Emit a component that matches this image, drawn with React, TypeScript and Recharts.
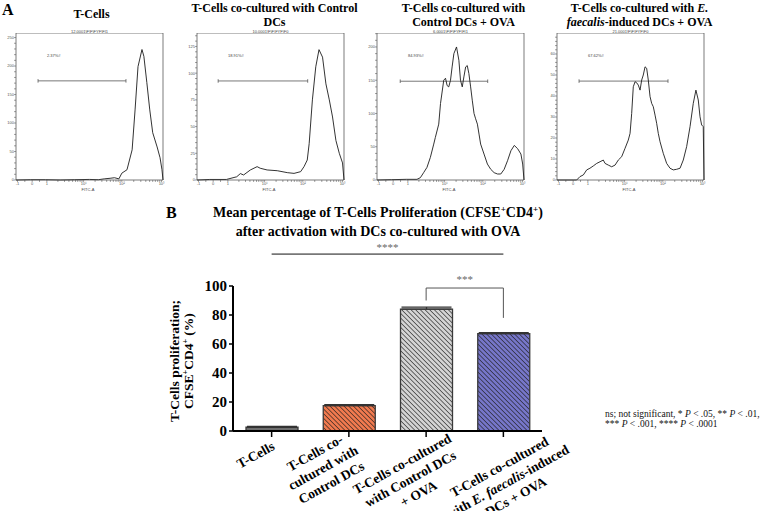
import React from 'react';
import { LineChart, Line, XAxis, YAxis, ReferenceLine, BarChart, Bar, ErrorBar, Cell } from 'recharts';

const SERIF = '"Liberation Serif", "Times New Roman", Tinos, serif';
const SANS = '"Liberation Sans", Arial, sans-serif';

// ---------- Panel A : FITC-A histograms (x = position on biexponential FITC-A axis, 0-100) ----------
const fitcMajorPos = [1, 11, 21, 46, 72, 99];
const fitcMajorLabels = ['-1', '0', '1', '10¹', '10²', '10³'];
const fitcMinorPos = [6, 16, 28.5, 33, 36, 38.5, 40.5, 42, 43.6, 44.9, 53.8, 58.4, 61.7, 64.2, 66.2, 68, 69.5, 70.8, 80.1, 84.9, 88.3, 90.9, 93, 94.8, 96.4, 97.8];

const tcellsFitc = [0, 10, 20, 30, 40, 50, 56, 60, 64, 67, 70, 72, 75.5, 79, 81, 83, 85.7, 87, 89, 91, 93, 96, 98, 99.3, 100];
const tcellsCount = [0, 0.5, 0.5, 0, 0.5, 1, 0.5, 2, 3, 4, 2, 12, 18, 53, 123, 199, 229, 217, 171, 123, 83, 58, 39, 18, 0];

const ctrlFitc = [0, 8.7, 20, 27, 29.5, 31.7, 36.3, 40.9, 43, 47.7, 54.6, 61.4, 66, 70.5, 72.8, 75, 76.3, 78.5, 80.8, 83, 85.4, 87.7, 90, 92.2, 94.5, 96.8, 99, 100];
const ctrlCount = [0, 0.5, 0.5, 3, 6, 4.7, 9.4, 12.5, 11, 9.4, 8.7, 6.9, 6.2, 7.8, 12.5, 18.7, 34, 75, 106, 122, 115, 90, 75, 59, 37, 25, 16, 0];

const ovaFitc = [0, 10, 20, 27.2, 29.5, 31.7, 34, 36.3, 38.6, 39.7, 42, 43.2, 45.4, 46.6, 47.7, 48.8, 50, 51.1, 52.3, 54.1, 55.7, 56.8, 58, 59.1, 60.3, 61.4, 62.5, 63.7, 64.8, 66, 67.1, 68.3, 69.4, 70.5, 72.8, 75.1, 77.4, 79.7, 82, 84.2, 86.5, 88.8, 91.1, 93.4, 95.7, 97.9, 99.1, 100];
const ovaCount = [0, 0.5, 1, 1, 3.5, 11, 19, 34, 54, 64, 84, 115, 150, 153, 142, 140, 150, 170, 190, 200, 180, 150, 140, 155, 170, 172, 160, 140, 120, 100, 92, 84, 69, 54, 39, 24, 16, 11, 9, 9, 16, 29, 44, 52, 47, 39, 24, 0];

const efFitc = [0, 11, 13.4, 15.6, 17.9, 20.2, 22.4, 24.7, 27, 29.3, 31.5, 32.7, 34.9, 37.2, 39.5, 41.7, 44, 46.3, 48.5, 49.7, 50.8, 51.9, 53.1, 54.2, 55.3, 56.5, 57.6, 58.7, 59.9, 61, 62.1, 63.3, 64.4, 65.5, 66.7, 67.8, 68.9, 70.1, 72.3, 74.6, 76.9, 79.1, 81.4, 83.7, 85.9, 88.2, 90.5, 92.7, 94.5, 96.1, 97.3, 98.4, 99.5, 100];
const efCount = [0, 0, 0, 1.6, 2.4, 4.8, 5.6, 6.7, 7.9, 8.7, 9.5, 7.9, 7.1, 6.3, 7.1, 9.5, 11.1, 15.1, 19, 22.2, 31.7, 44.4, 46.8, 46.3, 45.2, 42.8, 47.6, 50, 53.9, 53.2, 47.6, 39.7, 36.5, 34.9, 30.9, 27, 22.2, 18.2, 12.7, 7.9, 5.6, 4.8, 5.1, 5.6, 9.5, 15.9, 25.4, 36.5, 42.8, 38.1, 30.1, 26.2, 25.4, 0];

const histTitles = [
  ['T-Cells'],
  ['T-Cells co-cultured with Control', 'DCs'],
  ['T-Cells co-cultured with', 'Control DCs + OVA'],
  ['T-Cells  co-cultured with E.', 'faecalis-induced DCs + OVA'],
];
const histHeaders = ['12.0001\\F\\F\\FYF\\FI1', '10.0001\\F\\F\\FYF\\F0', '6.0001\\F\\F\\FYF\\FI1', '21.0001\\F\\F\\FYF\\F0'];
const gateLabels = ['2.37%#', '18.91%#', '84.93%#', '67.62%#'];
const gateLevels = [174, 92.7, 148.5, 47.1];
const gateFrom = [15, 14.4, 15.8, 15];
const gateTo = [74.8, 75.3, 75.3, 75.5];

// y-axis scales of the four histograms
const h1Major = [0, 50, 100, 150, 200, 250];
const h1Minor = [10, 20, 30, 40, 60, 70, 80, 90, 110, 120, 130, 140, 160, 170, 180, 190, 210, 220, 230, 240];
const h2Major = [0, 25, 50, 75, 100, 125];
const h2Minor = [5, 10, 15, 20, 30, 35, 40, 45, 55, 60, 65, 70, 80, 85, 90, 95, 105, 110, 115, 120, 130, 135];
const h3Major = [0, 50, 100, 150, 200];
const h3Minor = [10, 20, 30, 40, 60, 70, 80, 90, 110, 120, 130, 140, 160, 170, 180, 190, 210, 220];
const h4Major = [0, 10, 20, 30, 40, 50, 60];
const h4Minor = [2, 4, 6, 8, 12, 14, 16, 18, 22, 24, 26, 28, 32, 34, 36, 38, 42, 44, 46, 48, 52, 54, 56, 58, 62, 64, 66, 68];
const histYMax = [258, 137.6, 221, 70];

// ---------- Panel B : bar chart ----------
const categories = [
  'T-Cells',
  'T-Cells co-cultured with Control DCs',
  'T-Cells co-cultured with Control DCs + OVA',
  'T-Cells  co-cultured with E. faecalis-induced DCs + OVA',
];
const categoryLines = [
  ['T-Cells'],
  ['T-Cells co-', 'cultured with', 'Control DCs'],
  ['T-Cells co-cultured', 'with Control DCs', '+ OVA'],
  ['T-Cells  co-cultured', 'with E. faecalis-induced', 'DCs + OVA'],
];
const proliferationMean = [2.6, 17.5, 84, 67.2];
const proliferationSem = [0.5, 0.7, 1.5, 0.6];
const yTicksB = [0, 20, 40, 60, 80, 100];
const barColors = ['#6e6e6e', '#f17a4f', '#d4d4d4', '#7676c9'];

const barData = categories.map((name, i) => ({
  name,
  value: proliferationMean[i],
  err: [0, proliferationSem[i]],
}));

// label placement (style): centre of the first label line relative to tick
const labelOffsets = [
  [-16, 16],
  [-34, 14],
  [-24, 25],
  [-4, 28],
];

const ITALIC = ['E. faecalis', 'E.', 'faecalis'];

function renderItalic(s: string, key: string | number) {
  for (const it of ITALIC) {
    const idx = s.indexOf(it);
    if (idx >= 0) {
      return [
        s.slice(0, idx),
        <tspan key={`${key}-i`} fontStyle="italic">{it}</tspan>,
        s.slice(idx + it.length),
      ];
    }
  }
  return s;
}

function renderItalicHtml(s: string) {
  for (const it of ITALIC) {
    const idx = s.indexOf(it);
    if (idx >= 0) {
      return (
        <>
          {s.slice(0, idx)}
          <i>{it}</i>
          {s.slice(idx + it.length)}
        </>
      );
    }
  }
  return s;
}

const TICK_FS = 13.5;
const TICK_LH = 17;
const TICK_ANGLE = -29;

function CategoryTick(props: any) {
  const { x, y, payload } = props;
  const idx = Math.max(0, categories.indexOf(payload.value));
  const lines = categoryLines[idx] || [String(payload.value)];
  const [dx, dy] = labelOffsets[idx];
  return (
    <g transform={`translate(${x + dx},${y + dy}) rotate(${TICK_ANGLE})`}>
      <text
        textAnchor="middle"
        fontFamily={SERIF}
        fontWeight="bold"
        fontSize={TICK_FS}
        fill="#000"
      >
        {lines.map((l, i) => (
          <tspan key={i} x={0} y={4.5 + i * TICK_LH}>
            {renderItalic(l, i)}
          </tspan>
        ))}
      </text>
    </g>
  );
}

type HistProps = {
  idx: number;
  frameLeft: number;
  xs: number[];
  ys: number[];
  major: number[];
  minor: number[];
  titleShift: number;
};

const FRAME_TOP = 33;
const FRAME_H = 147;
const FRAME_W = 147;
const YAX_W = 16;

function Histogram({ idx, frameLeft, xs, ys, major, minor, titleShift }: HistProps) {
  const data = xs.map((u, i) => ({ u, count: ys[i] }));
  const yMax = histYMax[idx];
  const gy = gateLevels[idx];
  const cap = yMax * 0.012;
  const frameStroke = '#444';
  return (
    <>
      <div
        style={{
          position: 'absolute',
          left: frameLeft - 30 + titleShift,
          width: FRAME_W + 60,
          top: idx === 0 ? 7 : 1,
          textAlign: 'center',
          fontFamily: SERIF,
          fontWeight: 'bold',
          fontSize: 12,
          lineHeight: '14px',
          whiteSpace: 'nowrap',
        }}
      >
        {histTitles[idx].map((t, i) => (
          <div key={i}>{renderItalicHtml(t)}</div>
        ))}
      </div>
      <div
        style={{
          position: 'absolute',
          left: frameLeft,
          width: FRAME_W,
          top: 29.5,
          textAlign: 'center',
          fontFamily: SANS,
          fontSize: 4,
          lineHeight: '3.5px',
          color: '#444',
          whiteSpace: 'nowrap',
        }}
      >
        {histHeaders[idx]}
      </div>
      <div
        style={{
          position: 'absolute',
          left: frameLeft + 31,
          top: 53,
          fontFamily: SANS,
          fontSize: 4,
          lineHeight: '5px',
          color: '#444',
          whiteSpace: 'nowrap',
        }}
      >
        {gateLabels[idx]}
      </div>
      <div
        style={{
          position: 'absolute',
          left: frameLeft + 62,
          width: 20,
          top: 187,
          textAlign: 'center',
          fontFamily: SANS,
          fontSize: 4,
          lineHeight: '5px',
          color: '#444',
        }}
      >
        FITC-A
      </div>
      <div style={{ position: 'absolute', left: frameLeft - YAX_W, top: FRAME_TOP }}>
        <LineChart
          width={YAX_W + FRAME_W + 2}
          height={FRAME_H + 12}
          data={data}
          margin={{ top: 0, right: 2, bottom: 0, left: 0 }}
        >
          <XAxis
            type="number"
            dataKey="u"
            domain={[0, 100]}
            ticks={[...fitcMajorPos, ...fitcMinorPos]}
            tickFormatter={(v: number) => {
              const k = fitcMajorPos.indexOf(v);
              return k >= 0 ? fitcMajorLabels[k] : '';
            }}
            interval={0}
            height={12}
            tickSize={2}
            tickMargin={0}
            tick={{ fontSize: 4, fill: '#555', fontFamily: SANS }}
            axisLine={{ stroke: frameStroke, strokeWidth: 0.7 }}
            tickLine={{ stroke: frameStroke, strokeWidth: 0.5 }}
          />
          <YAxis
            type="number"
            domain={[0, yMax]}
            ticks={[...major, ...minor]}
            tickFormatter={(v: number) => (major.includes(v) ? String(v) : '')}
            interval={0}
            width={YAX_W}
            tickSize={2}
            tickMargin={0}
            tick={{ fontSize: 4, fill: '#555', fontFamily: SANS }}
            axisLine={{ stroke: frameStroke, strokeWidth: 0.7 }}
            tickLine={{ stroke: frameStroke, strokeWidth: 0.5 }}
          />
          <ReferenceLine y={yMax} stroke={frameStroke} strokeWidth={0.7} />
          <ReferenceLine x={100} stroke={frameStroke} strokeWidth={0.7} />
          <ReferenceLine
            segment={[{ x: gateFrom[idx], y: gy }, { x: gateTo[idx], y: gy }]}
            stroke="#555"
            strokeWidth={0.8}
          />
          <ReferenceLine
            segment={[{ x: gateFrom[idx], y: gy - cap }, { x: gateFrom[idx], y: gy + cap }]}
            stroke="#555"
            strokeWidth={0.8}
          />
          <ReferenceLine
            segment={[{ x: gateTo[idx], y: gy - cap }, { x: gateTo[idx], y: gy + cap }]}
            stroke="#555"
            strokeWidth={0.8}
          />
          <Line
            type="linear"
            dataKey="count"
            stroke="#1c1c1c"
            strokeWidth={0.9}
            dot={false}
            isAnimationActive={false}
          />
        </LineChart>
      </div>
    </>
  );
}

const supStyle: React.CSSProperties = { fontSize: 9, position: 'relative', top: -5 };

export default function App() {
  const hatchIds = barColors.map((_, i) => `hatch-${i}`);
  return (
    <div
      style={{
        position: 'absolute',
        left: 0,
        top: 0,
        width: 760,
        height: 511,
        background: '#fff',
        overflow: 'hidden',
      }}
    >
      <div style={{ position: 'absolute', left: 2, top: 1, fontFamily: SERIF, fontWeight: 'bold', fontSize: 16 }}>A</div>

      <Histogram idx={0} frameLeft={16} xs={tcellsFitc} ys={tcellsCount} major={h1Major} minor={h1Minor} titleShift={2} />
      <Histogram idx={1} frameLeft={197} xs={ctrlFitc} ys={ctrlCount} major={h2Major} minor={h2Minor} titleShift={4} />
      <Histogram idx={2} frameLeft={377} xs={ovaFitc} ys={ovaCount} major={h3Major} minor={h3Minor} titleShift={13} />
      <Histogram idx={3} frameLeft={557} xs={efFitc} ys={efCount} major={h4Major} minor={h4Minor} titleShift={9} />

      <div style={{ position: 'absolute', left: 166, top: 204, fontFamily: SERIF, fontWeight: 'bold', fontSize: 16 }}>B</div>
      <div
        style={{
          position: 'absolute',
          left: 178,
          width: 400,
          top: 204,
          textAlign: 'center',
          fontFamily: SERIF,
          fontWeight: 'bold',
          fontSize: 14,
          lineHeight: '17px',
          whiteSpace: 'nowrap',
        }}
      >
        <div>
          Mean percentage of T-Cells Proliferation (CFSE<span style={supStyle}>+</span>CD4<span style={supStyle}>+</span>)
        </div>
        <div>after activation with DCs co-cultured with OVA</div>
      </div>

      <div
        style={{
          position: 'absolute',
          left: 183,
          top: 361,
          width: 0,
          height: 0,
        }}
      >
        <div
          style={{
            position: 'absolute',
            left: -100,
            top: -15,
            width: 200,
            textAlign: 'center',
            transform: 'rotate(-90deg)',
            fontFamily: SERIF,
            fontWeight: 'bold',
            fontSize: 13.5,
            lineHeight: '14px',
            whiteSpace: 'nowrap',
          }}
        >
          <div>T-Cells proliferation;</div>
          <div>
            CFSE<span style={{ fontSize: 8, position: 'relative', top: -5 }}>+</span>CD4
            <span style={{ fontSize: 8, position: 'relative', top: -5 }}>+</span> (%)
          </div>
        </div>
      </div>

      <div style={{ position: 'absolute', left: 140, top: 240 }}>
        <BarChart
          width={440}
          height={271}
          data={barData}
          margin={{ top: 46, right: 38, bottom: 0, left: 0 }}
          barSize={52}
        >
          <defs>
            {barColors.map((c, i) => (
              <pattern
                key={i}
                id={hatchIds[i]}
                patternUnits="userSpaceOnUse"
                width={3.3}
                height={3.3}
                patternTransform="rotate(-45)"
              >
                <rect x={0} y={0} width={3.3} height={3.3} fill={c} />
                {i > 0 && <line x1={0} y1={0} x2={0} y2={3.3} stroke="#1a1a1a" strokeWidth={1.2} />}
              </pattern>
            ))}
          </defs>
          <XAxis
            dataKey="name"
            interval={0}
            height={80}
            tick={<CategoryTick />}
            tickSize={6}
            axisLine={{ stroke: '#000', strokeWidth: 2 }}
            tickLine={{ stroke: '#000', strokeWidth: 1.5 }}
          />
          <YAxis
            type="number"
            domain={[0, 100]}
            ticks={yTicksB}
            interval={0}
            width={93}
            tickSize={4}
            tickMargin={2}
            tick={{ fontSize: 15, fill: '#000', fontFamily: SERIF, fontWeight: 'bold' }}
            axisLine={{ stroke: '#000', strokeWidth: 2 }}
            tickLine={{ stroke: '#000', strokeWidth: 1.5 }}
          />
          <ReferenceLine
            segment={[{ x: categories[0], y: 122 }, { x: categories[3], y: 122 }]}
            stroke="#777"
            strokeWidth={1.8}
            ifOverflow="visible"
            label={{ value: '****', position: 'top', fill: '#666', fontSize: 11, fontFamily: SERIF, offset: 3 }}
          />
          <ReferenceLine
            segment={[{ x: categories[2], y: 98.6 }, { x: categories[3], y: 98.6 }]}
            stroke="#555"
            strokeWidth={1}
            ifOverflow="visible"
            label={{ value: '***', position: 'top', fill: '#666', fontSize: 11, fontFamily: SERIF }}
          />
          <ReferenceLine
            segment={[{ x: categories[2], y: 98.6 }, { x: categories[2], y: 90 }]}
            stroke="#555"
            strokeWidth={1}
            ifOverflow="visible"
          />
          <ReferenceLine
            segment={[{ x: categories[3], y: 98.6 }, { x: categories[3], y: 78 }]}
            stroke="#555"
            strokeWidth={1}
            ifOverflow="visible"
          />
          <Bar dataKey="value" stroke="#3a3a3a" strokeWidth={1.3} isAnimationActive={false}>
            {barData.map((_, i) => (
              <Cell key={i} fill={`url(#${hatchIds[i]})`} />
            ))}
            <ErrorBar dataKey="err" width={25} stroke="#333" strokeWidth={1.3} direction="y" />
          </Bar>
        </BarChart>
      </div>

      <div
        style={{
          position: 'absolute',
          left: 605,
          top: 409,
          fontFamily: SERIF,
          fontSize: 9.5,
          lineHeight: '10px',
          whiteSpace: 'nowrap',
          color: '#111',
        }}
      >
        <div>
          ns; not significant, * <i>P</i> &lt; .05, ** <i>P</i> &lt; .01,
        </div>
        <div>
          *** <i>P</i> &lt; .001, **** <i>P</i> &lt; .0001
        </div>
      </div>
    </div>
  );
}
